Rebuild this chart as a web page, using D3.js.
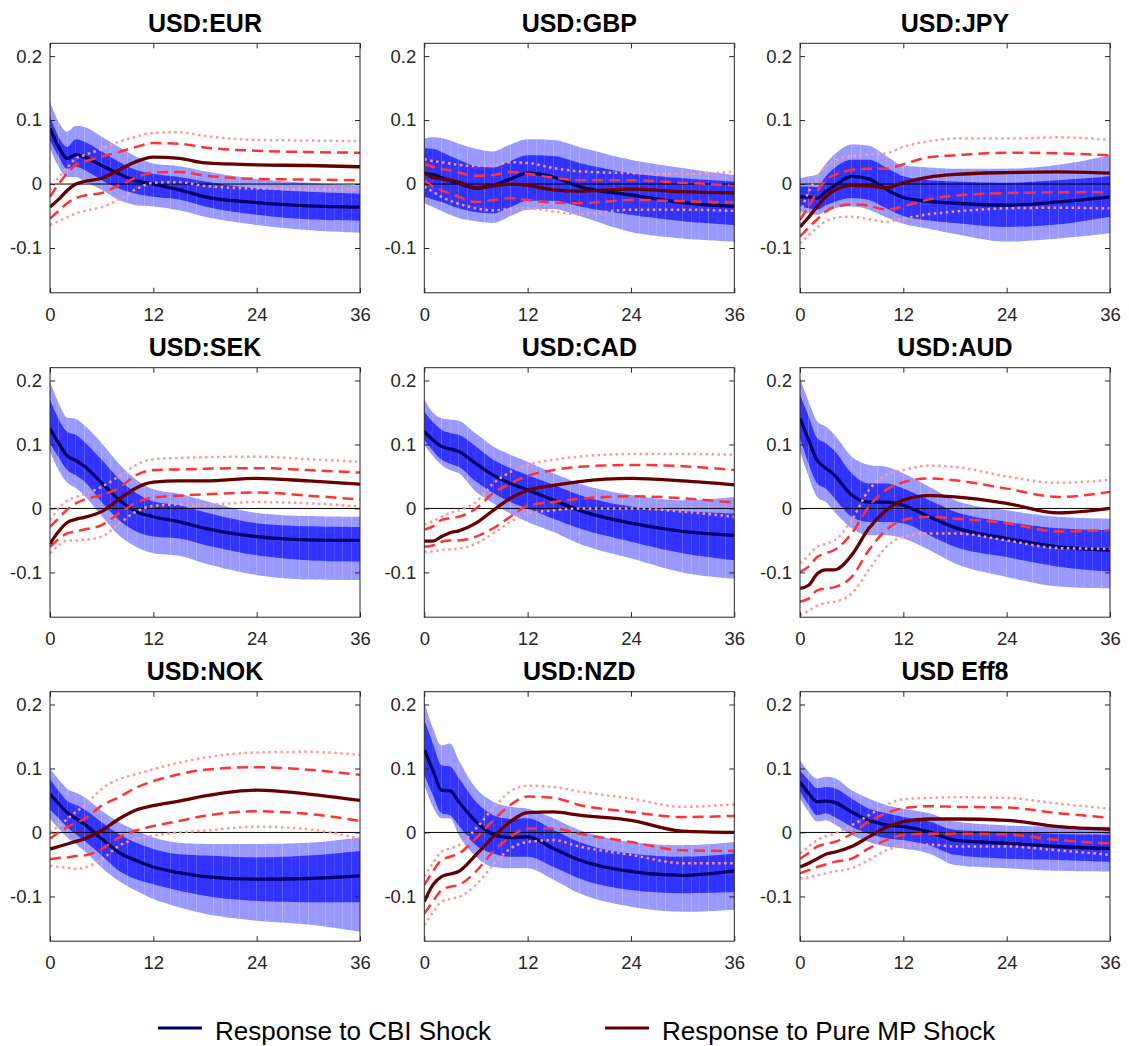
<!DOCTYPE html>
<html>
<head>
<meta charset="utf-8">
<script src="https://cdn.jsdelivr.net/npm/d3@7"></script>
<style>
  body { margin: 0; background: #fff; }
  svg { display: block; font-family: "Liberation Sans", Arial, Helvetica, sans-serif; }
</style>
</head>
<body>
<svg id="chart" width="1129" height="1046"></svg>
<script>
var months = [0, 1, 2, 3, 4, 6, 8, 10, 12, 15, 18, 24, 30, 36];

var panelKeys = ["EUR", "GBP", "JPY", "SEK", "CAD", "AUD", "NOK", "NZD", "EFF8"];
var panelTitles = ["USD:EUR", "USD:GBP", "USD:JPY", "USD:SEK", "USD:CAD", "USD:AUD", "USD:NOK", "USD:NZD", "USD Eff8"];

var xTicks = [0, 12, 24, 36];
var yTicks = [-0.1, 0, 0.1, 0.2];
var yTickLabels = ["-0.1", "0", "0.1", "0.2"];
var legendLabels = ["Response to CBI Shock", "Response to Pure MP Shock"];

// CBI shock: median response
var cbiMid = {
  EUR: [.087, .058, .040, .046, .042, .029, .016, .005, 0, -.009, -.020, -.029, -.034, -.036],
  GBP: [.016, .015, .010, .005, .001, -.006, -.002, .008, .017, .011, -.004, -.017, -.029, -.035],
  JPY: [-.020, -.020, -.022, -.012, -.003, .012, .008, -.008, -.021, -.027, -.030, -.033, -.028, -.020],
  SEK: [.125, .102, .082, .075, .066, .040, .014, -.005, -.013, -.021, -.031, -.044, -.049, -.050],
  CAD: [.120, .107, .097, .093, .089, .070, .052, .039, .029, .013, -.003, -.023, -.036, -.042],
  AUD: [.141, .107, .075, .063, .052, .021, .010, .010, .005, -.013, -.030, -.047, -.060, -.065],
  NOK: [.060, .045, .031, .022, .013, -.010, -.031, -.044, -.054, -.063, -.069, -.073, -.072, -.068],
  NZD: [.129, .097, .066, .065, .048, .017, -.003, -.008, -.007, -.025, -.043, -.061, -.067, -.060],
  EFF8: [.079, .061, .048, .049, .047, .032, .019, .012, .009, .001, -.012, -.017, -.022, -.025]
};
// CBI shock: inner (dark) band
var cbiInnerHi = {
  EUR: [.105, .074, .058, .070, .066, .051, .035, .022, .016, .011, .004, -.007, -.012, -.015],
  GBP: [.056, .055, .050, .044, .038, .028, .026, .036, .045, .044, .033, .017, .009, .004],
  JPY: [-.004, -.004, -.005, .012, .025, .038, .038, .026, .012, .006, .004, .002, .006, .012],
  SEK: [.170, .140, .120, .115, .104, .076, .046, .024, .011, .005, -.006, -.023, -.028, -.029],
  CAD: [.151, .135, .123, .118, .115, .097, .076, .063, .052, .037, .021, .003, -.004, -.008],
  AUD: [.178, .144, .110, .102, .090, .055, .039, .039, .031, .013, -.005, -.021, -.031, -.034],
  NOK: [.083, .065, .049, .043, .036, .016, -.003, -.016, -.026, -.034, -.036, -.039, -.036, -.029],
  NZD: [.176, .139, .105, .103, .085, .048, .027, .021, .022, .004, -.015, -.033, -.038, -.033],
  EFF8: [.097, .082, .069, .071, .069, .053, .037, .030, .024, .017, .004, .001, -.002, -.004]
};
var cbiInnerLo = {
  EUR: [.069, .043, .024, .027, .022, .006, -.007, -.015, -.020, -.024, -.035, -.048, -.055, -.057],
  GBP: [-.020, -.024, -.028, -.033, -.038, -.044, -.046, -.036, -.026, -.026, -.035, -.048, -.058, -.064],
  JPY: [-.035, -.038, -.040, -.033, -.028, -.022, -.025, -.038, -.050, -.057, -.061, -.067, -.063, -.051],
  SEK: [.102, .080, .060, .052, .042, .010, -.018, -.036, -.044, -.047, -.057, -.073, -.081, -.083],
  CAD: [.107, .090, .076, .070, .065, .042, .024, .010, .000, -.016, -.031, -.052, -.070, -.081],
  AUD: [.110, .070, .039, .031, .016, -.013, -.021, -.021, -.023, -.042, -.060, -.076, -.091, -.099],
  NOK: [.036, .022, .008, -.003, -.013, -.036, -.060, -.073, -.081, -.091, -.099, -.107, -.109, -.109],
  NZD: [.090, .058, .030, .027, .011, -.020, -.033, -.038, -.038, -.054, -.072, -.090, -.095, -.093],
  EFF8: [.064, .043, .027, .030, .024, .009, -.002, -.009, -.012, -.020, -.035, -.041, -.043, -.046]
};
// CBI shock: outer (light) band
var cbiOuterHi = {
  EUR: [.129, .097, .082, .091, .089, .074, .058, .043, .032, .028, .020, .008, .002, -.002],
  GBP: [.071, .073, .072, .068, .063, .055, .051, .062, .070, .069, .058, .038, .025, .014],
  JPY: [.009, .012, .015, .032, .046, .062, .060, .044, .029, .026, .024, .024, .030, .045],
  SEK: [.198, .165, .142, .140, .130, .102, .070, .045, .030, .023, .012, -.007, -.012, -.013],
  CAD: [.170, .150, .141, .139, .137, .117, .097, .084, .073, .055, .039, .021, .013, .018],
  AUD: [.204, .167, .136, .128, .115, .081, .068, .065, .055, .034, .013, -.003, -.013, -.016],
  NOK: [.099, .083, .068, .062, .055, .034, .016, .003, -.008, -.016, -.018, -.018, -.016, -.008],
  NZD: [.204, .163, .136, .139, .113, .069, .048, .040, .037, .022, .004, -.015, -.020, -.015],
  EFF8: [.113, .095, .084, .087, .085, .066, .053, .043, .037, .030, .017, .011, .009, .009]
};
var cbiOuterLo = {
  EUR: [.056, .027, .011, .011, .004, -.009, -.025, -.033, -.035, -.041, -.051, -.064, -.072, -.076],
  GBP: [-.030, -.036, -.042, -.048, -.053, -.058, -.061, -.050, -.040, -.039, -.050, -.075, -.085, -.090],
  JPY: [-.043, -.046, -.048, -.042, -.038, -.035, -.040, -.052, -.062, -.070, -.078, -.090, -.085, -.077],
  SEK: [.089, .060, .040, .032, .020, -.012, -.042, -.060, -.070, -.074, -.086, -.104, -.111, -.112],
  CAD: [.099, .082, .068, .060, .055, .026, .008, -.008, -.021, -.037, -.055, -.078, -.100, -.110],
  AUD: [.089, .050, .018, .010, -.005, -.031, -.042, -.042, -.047, -.065, -.086, -.107, -.122, -.125],
  NOK: [.021, .006, -.008, -.018, -.029, -.055, -.076, -.091, -.104, -.117, -.127, -.138, -.144, -.155],
  NZD: [.074, .040, .022, .022, -.004, -.038, -.054, -.056, -.056, -.074, -.095, -.116, -.124, -.121],
  EFF8: [.053, .032, .017, .019, .013, -.004, -.015, -.022, -.025, -.033, -.051, -.056, -.060, -.061]
};

// pure MP shock: median response
var mpMid = {
  EUR: [-.036, -.024, -.010, .000, .004, .009, .022, .035, .042, .040, .033, .030, .029, .027],
  GBP: [.018, .010, .008, .006, .003, -.006, -.003, .000, -.002, -.009, -.011, -.008, -.012, -.014],
  JPY: [-.067, -.052, -.035, -.020, -.010, -.002, -.003, -.006, .002, .011, .015, .018, .019, .017],
  SEK: [-.055, -.036, -.022, -.017, -.014, -.005, .014, .032, .041, .043, .043, .047, .043, .038],
  CAD: [-.051, -.051, -.044, -.038, -.035, -.023, -.003, .016, .028, .036, .042, .047, .043, .037],
  AUD: [-.125, -.120, -.102, -.096, -.096, -.073, -.031, -.003, .013, .020, .018, .008, -.007, .000],
  NOK: [-.026, -.022, -.018, -.014, -.010, .003, .021, .035, .042, .049, .057, .066, .060, .050],
  NZD: [-.108, -.082, -.069, -.065, -.061, -.035, -.007, .017, .031, .032, .027, .019, .002, .000],
  EFF8: [-.054, -.048, -.041, -.034, -.031, -.022, -.007, .008, .017, .021, .021, .019, .009, .005]
};
// pure MP shock: dashed bounds
var mpDashHi = {
  EUR: [-.020, .000, .017, .030, .035, .043, .050, .058, .064, .063, .057, .052, .050, .049],
  GBP: [.031, .027, .024, .021, .018, .013, .014, .019, .016, .010, .006, .006, .002, -.002],
  JPY: [-.056, -.035, -.012, .006, .014, .022, .024, .024, .031, .042, .045, .049, .048, .045],
  SEK: [-.029, -.015, -.002, .008, .014, .021, .032, .052, .060, .061, .062, .063, .060, .056],
  CAD: [-.033, -.028, -.018, -.015, -.013, .000, .024, .039, .051, .060, .065, .068, .066, .060],
  AUD: [-.099, -.091, -.076, -.070, -.065, -.039, .003, .029, .041, .047, .044, .031, .018, .026],
  NOK: [-.010, .000, .008, .015, .021, .042, .055, .070, .080, .091, .098, .102, .098, .090],
  NZD: [-.082, -.061, -.043, -.038, -.033, -.009, .019, .043, .056, .054, .043, .032, .024, .026],
  EFF8: [-.041, -.032, -.022, -.018, -.015, -.002, .017, .030, .038, .041, .040, .039, .030, .023]
};
var mpDashLo = {
  EUR: [-.054, -.042, -.030, -.022, -.018, -.014, -.002, .010, .018, .019, .013, .008, .007, .006],
  GBP: [.006, -.004, -.010, -.015, -.020, -.028, -.025, -.022, -.025, -.029, -.030, -.025, -.027, -.029],
  JPY: [-.082, -.068, -.055, -.043, -.036, -.032, -.034, -.040, -.035, -.024, -.018, -.014, -.013, -.013],
  SEK: [-.060, -.048, -.039, -.036, -.033, -.026, -.008, .009, .017, .020, .022, .025, .020, .014],
  CAD: [-.060, -.058, -.052, -.050, -.050, -.044, -.031, -.013, .004, .010, .015, .019, .016, .009],
  AUD: [-.146, -.141, -.128, -.125, -.123, -.107, -.065, -.034, -.018, -.013, -.016, -.023, -.036, -.034],
  NOK: [-.042, -.040, -.039, -.037, -.036, -.026, -.008, .003, .010, .018, .026, .033, .029, .018],
  NZD: [-.127, -.108, -.090, -.085, -.082, -.061, -.030, -.007, .006, .006, -.002, -.015, -.028, -.029],
  EFF8: [-.064, -.059, -.054, -.050, -.046, -.041, -.025, -.012, -.004, -.002, -.002, -.003, -.012, -.017]
};
// pure MP shock: dotted bounds
var mpDotHi = {
  EUR: [-.010, .010, .025, .040, .045, .055, .066, .074, .080, .081, .075, .069, .068, .067],
  GBP: [.039, .036, .034, .032, .030, .028, .029, .034, .033, .025, .020, .017, .016, .019],
  JPY: [-.046, -.012, .010, .028, .036, .044, .046, .048, .058, .067, .071, .071, .073, .069],
  SEK: [-.018, .000, .012, .018, .022, .034, .050, .068, .077, .079, .080, .081, .077, .073],
  CAD: [-.025, -.020, -.013, -.007, -.003, .010, .039, .057, .068, .076, .081, .085, .085, .084],
  AUD: [-.086, -.073, -.060, -.055, -.050, -.018, .029, .052, .060, .067, .065, .050, .040, .045],
  NOK: [.000, .010, .021, .032, .042, .068, .083, .091, .099, .109, .117, .125, .126, .121],
  NZD: [-.069, -.048, -.030, -.025, -.020, .006, .038, .064, .073, .071, .064, .053, .040, .044],
  EFF8: [-.033, -.022, -.012, -.006, -.002, .011, .027, .043, .052, .054, .055, .054, .045, .037]
};
var mpDotLo = {
  EUR: [-.064, -.058, -.052, -.046, -.042, -.036, -.024, -.008, .002, .003, -.003, -.007, -.008, -.008],
  GBP: [-.004, -.012, -.020, -.026, -.031, -.038, -.041, -.039, -.038, -.043, -.047, -.040, -.040, -.042],
  JPY: [-.093, -.080, -.068, -.058, -.053, -.051, -.055, -.059, -.054, -.047, -.043, -.038, -.037, -.038],
  SEK: [-.070, -.058, -.050, -.050, -.049, -.044, -.024, -.005, .004, .006, .006, .010, .008, .003],
  CAD: [-.068, -.067, -.065, -.064, -.063, -.055, -.039, -.021, -.008, -.003, .000, .000, -.005, -.013],
  AUD: [-.167, -.160, -.152, -.148, -.146, -.133, -.096, -.060, -.044, -.039, -.039, -.050, -.062, -.063],
  NOK: [-.052, -.054, -.055, -.057, -.055, -.042, -.021, -.010, -.005, .000, .003, .009, .005, -.010],
  NZD: [-.145, -.125, -.108, -.104, -.101, -.082, -.051, -.025, -.015, -.012, -.022, -.035, -.048, -.048],
  EFF8: [-.072, -.070, -.067, -.064, -.061, -.056, -.043, -.028, -.020, -.019, -.022, -.022, -.028, -.035]
};

/*******************************************************************************
 * layout
 */
var colLeft = [50, 424.3, 800];
var rowTop = [43.3, 367.7, 691.7];
var plotW = 310, plotH = 249.5;

var colors = {
  outer: "#9999ff",
  inner: "#3333ff",
  cbi: "#000066",
  mp: "#660000",
  dash: "#ff3333",
  dot: "#ff9999",
  axis: "#262626"
};

var svg = d3.select("#chart");
var defs = svg.append("defs");

var x = d3.scaleLinear().domain([0, 36]).range([0, plotW]);
var y = d3.scaleLinear().domain([-0.17, 0.22]).range([plotH, 0]);

function zip(a) {
  return months.map(function(m, i) { return { m: m, v: a[i] }; });
}
function zipBand(lo, hi) {
  return months.map(function(m, i) { return { m: m, lo: lo[i], hi: hi[i] }; });
}

var line = d3.line()
  .x(function(d) { return x(d.m); })
  .y(function(d) { return y(d.v); })
  .curve(d3.curveMonotoneX);

var band = d3.area()
  .x(function(d) { return x(d.m); })
  .y0(function(d) { return y(d.lo); })
  .y1(function(d) { return y(d.hi); })
  .curve(d3.curveMonotoneX);

panelKeys.forEach(function(key, i) {
  var col = i % 3, row = Math.floor(i / 3);
  var g = svg.append("g")
    .attr("transform", "translate(" + colLeft[col] + "," + rowTop[row] + ")");

  defs.append("clipPath").attr("id", "plot-" + i)
    .append("rect").attr("width", plotW).attr("height", plotH);

  // bands drawn month by month (the seams show like in the original patches)
  var outerD = band(zipBand(cbiOuterLo[key], cbiOuterHi[key]));
  var innerD = band(zipBand(cbiInnerLo[key], cbiInnerHi[key]));
  for (var m = 0; m < 36; m++) {
    var id = "strip-" + i + "-" + m;
    defs.append("clipPath").attr("id", id)
      .append("rect")
      .attr("x", x(m)).attr("y", 0)
      .attr("width", x(m + 1) - x(m)).attr("height", plotH);
    var s = g.append("g").attr("clip-path", "url(#" + id + ")");
    s.append("path").attr("d", outerD).attr("fill", colors.outer);
    s.append("path").attr("d", innerD).attr("fill", colors.inner);
  }

  var lines = g.append("g").attr("clip-path", "url(#plot-" + i + ")");

  lines.append("line")
    .attr("x1", x(0)).attr("x2", x(36))
    .attr("y1", y(0)).attr("y2", y(0))
    .attr("stroke", "#000").attr("stroke-width", 1);

  lines.append("path").datum(zip(cbiMid[key])).attr("d", line)
    .attr("fill", "none").attr("stroke", colors.cbi).attr("stroke-width", 3.3);

  [mpDotHi, mpDotLo].forEach(function(s) {
    lines.append("path").datum(zip(s[key])).attr("d", line)
      .attr("fill", "none").attr("stroke", colors.dot)
      .attr("stroke-width", 2.5).attr("stroke-dasharray", "2.5,3.5");
  });
  [mpDashHi, mpDashLo].forEach(function(s) {
    lines.append("path").datum(zip(s[key])).attr("d", line)
      .attr("fill", "none").attr("stroke", colors.dash)
      .attr("stroke-width", 2.5).attr("stroke-dasharray", "11,6");
  });

  lines.append("path").datum(zip(mpMid[key])).attr("d", line)
    .attr("fill", "none").attr("stroke", colors.mp).attr("stroke-width", 3.3);

  // axes, ticks pointing inwards on all four sides
  var ax = g.append("g").attr("class", "axes");
  ax.append("g").attr("transform", "translate(0," + plotH + ")")
    .call(d3.axisBottom(x).tickValues(xTicks).tickSize(-5).tickPadding(15).tickFormat(d3.format("d")));
  ax.append("g")
    .call(d3.axisTop(x).tickValues(xTicks).tickSize(-5).tickFormat(""));
  ax.append("g")
    .call(d3.axisLeft(y).tickValues(yTicks).tickSize(-5).tickPadding(8)
      .tickFormat(function(d, j) { return yTickLabels[j]; }));
  ax.append("g").attr("transform", "translate(" + plotW + ",0)")
    .call(d3.axisRight(y).tickValues(yTicks).tickSize(-5).tickFormat(""));

  ax.selectAll(".domain").remove();
  ax.selectAll(".tick line").attr("stroke", colors.axis);
  ax.selectAll(".tick text")
    .attr("fill", colors.axis)
    .style("font-size", "18.5px")
    .style("font-family", "'Liberation Sans', Arial, sans-serif");

  g.append("rect")
    .attr("width", plotW).attr("height", plotH)
    .attr("fill", "none").attr("stroke", colors.axis).attr("stroke-width", 1);

  g.append("text")
    .attr("x", plotW / 2).attr("y", -11.5)
    .attr("text-anchor", "middle")
    .attr("font-weight", "bold")
    .attr("font-size", 25)
    .attr("fill", "#000")
    .text(panelTitles[i]);
});

// legend
var legendItems = [
  { label: legendLabels[0], color: colors.cbi, x: 158 },
  { label: legendLabels[1], color: colors.mp, x: 605 }
];
var lg = svg.append("g");
legendItems.forEach(function(it) {
  lg.append("line")
    .attr("x1", it.x).attr("x2", it.x + 44)
    .attr("y1", 1028).attr("y2", 1028)
    .attr("stroke", it.color).attr("stroke-width", 3);
  lg.append("text")
    .attr("x", it.x + 57).attr("y", 1039.5)
    .attr("font-size", 26)
    .attr("fill", "#000")
    .text(it.label);
});
</script>
</body>
</html>
